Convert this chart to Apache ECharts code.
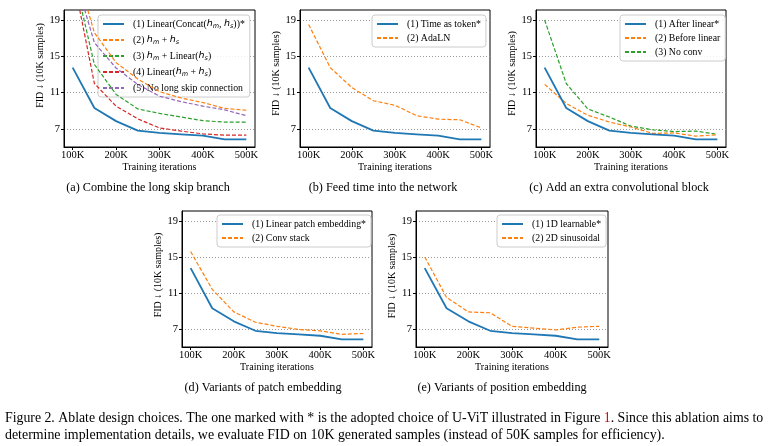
<!DOCTYPE html>
<html><head><meta charset="utf-8">
<script src="https://cdn.jsdelivr.net/npm/echarts@6/dist/echarts.min.js"></script>
<style>html,body{margin:0;padding:0;background:#fff}#c{width:770px;height:446px}</style>
</head><body><div id="c"></div>
<script>
// ---- data ----
const iterations = [100, 150, 200, 250, 300, 350, 400, 450, 500]; // K
const xTicks = [100, 200, 300, 400, 500];
const yTicks = [7, 11, 15, 19];
const adopted = [13.75, 9.3, 7.85, 6.8, 6.55, 6.4, 6.25, 5.85, 5.85];
// (a) long skip branch
const a2_sum = [25.8, 17.6, 14.3, 12.5, 11.1, 10.4, 9.9, 9.25, 9.05];
const a3_sumLinear = [24.4, 14.1, 10.8, 9.2, 8.7, 8.3, 7.9, 7.75, 7.75];
const a4_linearSum = [24.0, 12.0, 9.5, 8.1, 7.1, 6.75, 6.45, 6.3, 6.3];
const a5_noSkip = [24.6, 16.5, 13.7, 11.9, 10.6, 10.0, 9.5, 9.1, 8.45];
// (b) time
const b_adaln = [18.5, 13.75, 11.55, 10.1, 9.6, 8.45, 8.07, 8.0, 7.1];
// (c) conv block
const c_before = [11.9, 9.8, 8.5, 7.75, 7.2, 6.5, 6.55, 6.2, 6.35];
const c_noconv = [19.0, 12.0, 9.2, 8.3, 7.3, 6.9, 6.7, 6.75, 6.4];
// (d) patch embedding
const d_conv = [15.6, 11.4, 8.9, 7.75, 7.3, 6.95, 6.8, 6.4, 6.5];
// (e) position embedding
const e_sin = [15.0, 10.5, 8.9, 8.8, 7.3, 7.1, 6.9, 7.2, 7.3];

const subcaptions = ['(a) Combine the long skip branch', '(b) Feed time into the network',
  '(c) Add an extra convolutional block', '(d) Variants of patch embedding', '(e) Variants of position embedding'];

// ---- layout ----
const FONT = '"Liberation Serif", "Times New Roman", serif';
const grids = [
  {left: 64, top: 10, width: 191, height: 137},
  {left: 300, top: 10, width: 190, height: 137},
  {left: 536, top: 10, width: 190, height: 137},
  {left: 182, top: 211, width: 190, height: 136},
  {left: 416, top: 211, width: 192, height: 136}
];
const C = {blue: '#1f77b4', orange: '#ff7f0e', green: '#2ca02c', red: '#d62728', purple: '#9467bd'};

const panels = [
  [['(1) Linear(Concat(h_m, h_s))*', adopted, C.blue],
   ['(2) h_m + h_s', a2_sum, C.orange],
   ['(3) h_m + Linear(h_s)', a3_sumLinear, C.green],
   ['(4) Linear(h_m + h_s)', a4_linearSum, C.red],
   ['(5) No long skip connection', a5_noSkip, C.purple]],
  [['(1) Time as token*', adopted, C.blue], ['(2) AdaLN', b_adaln, C.orange]],
  [['(1) After linear*', adopted, C.blue], ['(2) Before linear', c_before, C.orange], ['(3) No conv', c_noconv, C.green]],
  [['(1) Linear patch embedding*', adopted, C.blue], ['(2) Conv stack', d_conv, C.orange]],
  [['(1) 1D learnable*', adopted, C.blue], ['(2) 2D sinusoidal', e_sin, C.orange]]
];
const legendPos = [
  {left: 98, top: 15}, {left: 372, top: 15}, {left: 620, top: 15}, {left: 217, top: 215}, {left: 497, top: 215}
];
const ylabelShift = [26, 10, 10, 8, 6];

function richName(n) {
  return n.replace(/h_m/g, '{i|h}{s|m}').replace(/h_s/g, '{i|h}{s|s}');
}

const option = {
  animation: false,
  backgroundColor: '#fff',
  textStyle: {fontFamily: FONT},
  grid: grids.map(g => Object.assign({show: true, borderColor: '#000', borderWidth: 1, backgroundColor: 'transparent'}, g)),
  xAxis: grids.map((g, i) => ({
    type: 'value', gridIndex: i, min: 80, max: 520,
    name: 'Training iterations', nameLocation: 'middle', nameGap: 15,
    nameTextStyle: {fontFamily: FONT, fontSize: 10, color: '#000'},
    axisLine: {show: true, lineStyle: {color: '#000', width: 1}},
    axisTick: {show: true, inside: false, length: 3, customValues: xTicks, lineStyle: {color: '#000'}},
    axisLabel: {customValues: xTicks, formatter: v => v + 'K', fontFamily: FONT, fontSize: 10.5, color: '#000', margin: 3},
    splitLine: {show: false}
  })),
  yAxis: grids.map((g, i) => ({
    type: 'value', gridIndex: i, min: 5, max: 20.1,
    name: 'FID ↓ (10K samples)', nameLocation: 'middle', nameGap: 12,
    nameTextStyle: {fontFamily: FONT, fontSize: 10, color: '#000', padding: [0, 0, 0, ylabelShift[i]]},
    axisLine: {show: true, lineStyle: {color: '#000', width: 1}},
    axisTick: {show: true, inside: false, length: 3, customValues: yTicks, lineStyle: {color: '#000'}},
    axisLabel: {customValues: yTicks, fontFamily: FONT, fontSize: 10.5, color: '#000', margin: 4},
    splitLine: {show: true, lineStyle: {type: [1, 2], color: '#999', width: 1}}
  })),
  legend: panels.map((p, i) => ({
    data: p.map(s => s[0]),
    orient: 'vertical',
    left: legendPos[i].left, top: legendPos[i].top,
    itemWidth: 21, itemHeight: 8, itemGap: i === 0 ? 5 : 4,
    padding: [4, 5, 4, 4],
    backgroundColor: 'rgba(255,255,255,0.85)',
    borderColor: '#ccc', borderWidth: 1, borderRadius: 3,
    selectedMode: false,
    itemStyle: {opacity: 0, borderWidth: 0},
    formatter: n => richName(n),
    textStyle: {
      fontFamily: FONT, fontSize: 9.8, color: '#000', padding: [0, 0, 0, 4],
      rich: {
        i: {fontFamily: '"DejaVu Sans", sans-serif', fontStyle: 'italic', fontSize: 9.5, color: '#000'},
        s: {fontFamily: '"DejaVu Sans", sans-serif', fontStyle: 'italic', fontSize: 6.5, color: '#000', padding: [5, 0, 0, 0]}
      }
    }
  })),
  series: [],
  graphic: []
};

panels.forEach((p, i) => {
  p.forEach((s, k) => {
    option.series.push({
      type: 'line', name: s[0], xAxisIndex: i, yAxisIndex: i,
      data: iterations.map((x, j) => [x, s[1][j]]),
      symbol: 'none', clip: true,
      lineStyle: k === 0 ? {color: s[2], width: 1.8} : {color: s[2], width: 1.2, type: [4, 2]},
      itemStyle: {color: s[2]},
      z: 10 - k
    });
  });
});

const capPos = [[148, 188], [383, 188], [619, 188], [263, 388], [502, 388]];
subcaptions.forEach((t, i) => {
  option.graphic.push({type: 'text', x: capPos[i][0], y: capPos[i][1],
    style: {text: t, font: '12.2px ' + FONT, fill: '#000', textAlign: 'center', textVerticalAlign: 'middle'}});
});
option.graphic.push({type: 'text', x: 5, y: 418,
  style: {text: 'Figure 2. Ablate design choices. The one marked with * is the adopted choice of U-ViT illustrated in Figure {r|1}. Since this ablation aims to',
    font: '13.8px ' + FONT, fill: '#000', textVerticalAlign: 'middle',
    rich: {r: {fill: '#e00000', font: '13.8px ' + FONT}}}});
option.graphic.push({type: 'text', x: 5, y: 435,
  style: {text: 'determine implementation details, we evaluate FID on 10K generated samples (instead of 50K samples for efficiency).',
    font: '13.9px ' + FONT, fill: '#000', textVerticalAlign: 'middle'}});

const chart = echarts.init(document.getElementById('c'), null, {renderer: 'canvas'});
chart.setOption(option);
</script></body></html>
